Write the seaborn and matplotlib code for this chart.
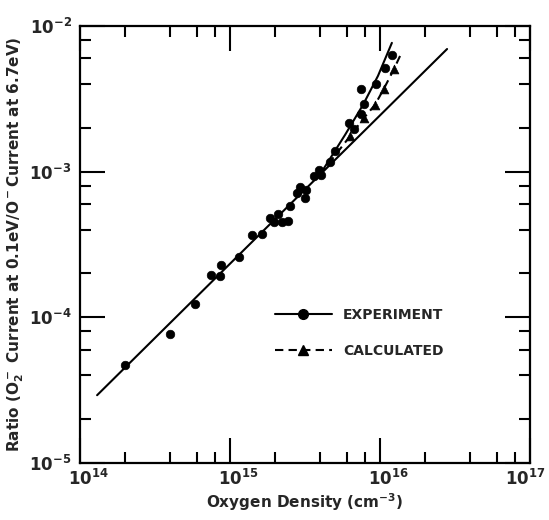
import math
import seaborn as sns
import matplotlib.pyplot as plt
import matplotlib.transforms as mtransforms
from matplotlib.lines import Line2D
from matplotlib.ticker import LogLocator, FuncFormatter, NullFormatter

# measured points (experiment, filled circles)
exp_x = [2.0e14, 3.98e14, 5.84e14, 7.47e14, 8.58e14, 8.71e14, 1.15e15, 1.40e15,
         1.63e15, 1.85e15, 1.96e15, 2.09e15, 2.22e15, 2.44e15, 2.51e15, 2.80e15,
         2.93e15, 3.16e15, 3.21e15, 3.63e15, 3.92e15, 4.04e15, 4.64e15, 5.01e15,
         6.21e15, 6.71e15, 7.47e15, 7.82e15, 7.47e15, 9.40e15, 1.08e16, 1.20e16]
exp_y = [4.69e-5, 7.66e-5, 1.23e-4, 1.94e-4, 1.91e-4, 2.27e-4, 2.58e-4, 3.65e-4,
         3.76e-4, 4.77e-4, 4.48e-4, 5.15e-4, 4.48e-4, 4.62e-4, 5.85e-4, 7.18e-4,
         7.89e-4, 6.64e-4, 7.53e-4, 9.40e-4, 1.02e-3, 9.53e-4, 1.17e-3, 1.39e-3,
         2.17e-3, 1.97e-3, 2.49e-3, 2.92e-3, 3.70e-3, 4.01e-3, 5.15e-3, 6.33e-3]

# calculated points (triangles)
calc_x = [6.31e15, 7.82e15, 9.26e15, 1.06e16, 1.24e16]
calc_y = [1.77e-3, 2.34e-3, 2.88e-3, 3.70e-3, 5.07e-3]

# straight reference line
line_x = [1.3e14, 2.8e16]
line_y = [2.92e-5, 6.95e-3]

# experiment curve (upper solid)
expc_x = [3.98e15, 5.85e15, 7.71e15, 9.70e15, 1.20e16]
expc_y = [9.55e-4, 1.79e-3, 2.88e-3, 4.55e-3, 7.66e-3]

# calculated curve (dashed)
calcc_x = [3.98e15, 6.31e15, 7.82e15, 9.26e15, 1.06e16, 1.24e16, 1.40e16]
calcc_y = [9.55e-4, 1.75e-3, 2.34e-3, 2.88e-3, 3.70e-3, 5.07e-3, 6.64e-3]

sns.set_style("ticks")
plt.rcParams['font.family'] = ['DejaVu Sans']
plt.rcParams['font.weight'] = 'bold'
plt.rcParams['mathtext.fontset'] = 'custom'
plt.rcParams['mathtext.rm'] = 'DejaVu Sans:bold'
plt.rcParams['mathtext.it'] = 'DejaVu Sans:bold'
plt.rcParams['mathtext.bf'] = 'DejaVu Sans:bold'
plt.rcParams['mathtext.sf'] = 'DejaVu Sans:bold'
plt.rcParams['mathtext.default'] = 'rm'

fig = plt.figure(figsize=(5.49, 5.20), dpi=100)
ax = fig.add_axes([80/549, 1-463/520, 450/549, 437/520])
ax.set_xscale('log')
ax.set_yscale('log')

dash = (0, (4, 2.5))
sns.lineplot(x=line_x, y=line_y, ax=ax, color='black', lw=1.5)
sns.lineplot(x=expc_x, y=expc_y, ax=ax, color='black', lw=1.5)
sns.lineplot(x=calcc_x, y=calcc_y, ax=ax, color='black', lw=1.5, linestyle=dash)
sns.scatterplot(x=exp_x, y=exp_y, ax=ax, marker='o', s=38, color='black',
                edgecolor='black', zorder=3)
sns.scatterplot(x=calc_x, y=calc_y, ax=ax, marker='^', s=40, color='black',
                edgecolor='black', zorder=3)

ax.set_xlim(1e14, 1e17)
ax.set_ylim(1e-5, 1e-2)

ax.xaxis.set_major_locator(LogLocator(base=10, numticks=10))
ax.yaxis.set_major_locator(LogLocator(base=10, numticks=10))
ax.xaxis.set_minor_locator(LogLocator(base=10, subs=(2, 4, 6, 8), numticks=10))
ax.yaxis.set_minor_locator(LogLocator(base=10, subs=(2, 4, 6, 8), numticks=10))
fmt = FuncFormatter(lambda v, p: r"$10^{%d}$" % round(math.log10(v)))
ax.xaxis.set_major_formatter(fmt)
ax.yaxis.set_major_formatter(fmt)
ax.xaxis.set_minor_formatter(NullFormatter())
ax.yaxis.set_minor_formatter(NullFormatter())

ax.tick_params(which='both', direction='in', top=True, right=True,
               width=1.5, color='black', labelsize=12)
ax.tick_params(which='major', length=18)
ax.tick_params(axis='x', which='major', pad=4)
ax.tick_params(axis='y', which='major', pad=6)
ax.tick_params(which='minor', length=8)
for s in ax.spines.values():
    s.set_linewidth(1.6)
    s.set_color('black')

ax.set_xlabel(r"Oxygen Density (cm$^{-3}$)", fontsize=11, fontweight='bold',
              labelpad=2)
ax.set_ylabel(r"Ratio (O$_2^-$ Current at 0.1eV/O$^-$Current at 6.7eV)",
              fontsize=11, fontweight='bold', labelpad=2)

handles = [
    Line2D([0], [0], color='black', lw=1.5, marker='o', markersize=7),
    Line2D([0], [0], color='black', lw=1.5, linestyle=dash,
           marker='^', markersize=7),
]
ax.legend(handles, ["EXPERIMENT", "CALCULATED"], loc='center left',
          bbox_to_anchor=(0.433, 0.298), frameon=False, fontsize=10,
          handlelength=4.1, handletextpad=0.8, labelspacing=1.6,
          borderaxespad=0, borderpad=0, numpoints=1)

# nudge x tick labels to the right like the original, keep the last inside
fig.canvas.draw()
for lab in ax.get_xticklabels():
    dx = -0.05 if lab.get_position()[0] > 5e16 else 0.08
    lab.set_transform(lab.get_transform() +
                      mtransforms.ScaledTranslation(dx, 0, fig.dpi_scale_trans))

fig.savefig("out.png", dpi=100)
